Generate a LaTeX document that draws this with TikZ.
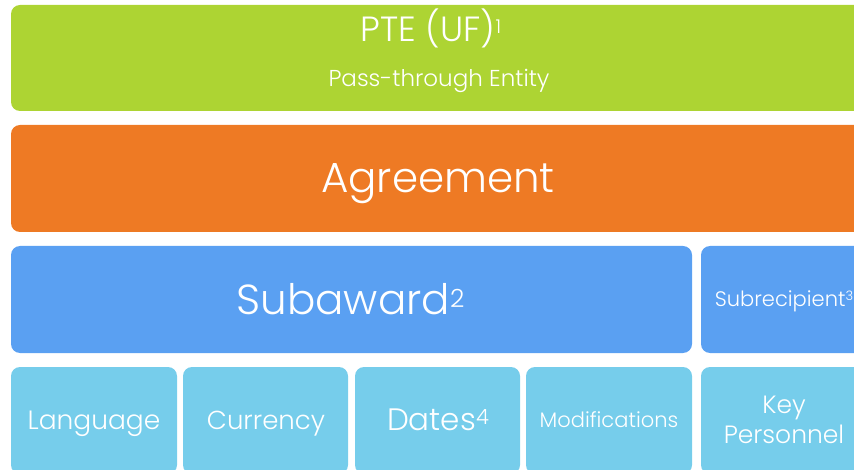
\documentclass[tikz,border=0pt]{standalone}
\usepackage{fontspec}
\setmainfont{Poppins}[UprightFont=* Light]
\definecolor{pteGreen}{HTML}{ADD433}
\definecolor{agreeOrange}{HTML}{EE7A24}
\definecolor{subBlue}{HTML}{5AA0F2}
\definecolor{itemBlue}{HTML}{76CDEB}
\newcommand{\upnum}[3]{\raisebox{#2}{\fontsize{#1}{#1}\selectfont #3}}
\newcommand{\sz}[1]{\fontsize{#1}{#1}\selectfont}

\begin{document}
\begin{tikzpicture}[x=1pt, y=-1pt,
  tile/.style={rectangle, rounded corners=9pt, inner sep=0pt, minimum height=107pt},
  item/.style={tile, fill=itemBlue, minimum width=166pt},
  word/.style={text=white, anchor=base, inner sep=0pt}]
\useasboundingbox (0,0) rectangle (854,470);
\clip (0,0) rectangle (854,470);

%Boksene
\node[tile, fill=pteGreen, minimum width=855pt, minimum height=106pt] (pte) at (438.5,58) {};
\node[tile, fill=agreeOrange, minimum width=855pt] (agreement) at (438.5,178.5) {};
\node[tile, fill=subBlue, minimum width=681pt] (subaward) at (351.5,299.5) {};
\node[tile, fill=subBlue, minimum width=166pt] (subrecipient) at (784,299.5) {};
\node[item] (language) at (94,420.5) {};
\node[item, minimum width=165pt] (currency) at (265.5,420.5) {};
\node[item, minimum width=165pt] (dates) at (437.5,420.5) {};
\node[item] (modifications) at (609,420.5) {};
\node[item] (keypersonnel) at (784,420.5) {};

%Tekstene
\node[word, font=\sz{35}] (pteName) at (431,41.7) {PTE (UF)\upnum{19}{8pt}{1}};
\node[word, font=\sz{23}] (pteText) at (439,87) {Pass-through Entity};
\node[word, font=\sz{42}] (agreementText) at (438,193) {Agreement};
\node[word, font=\sz{42}] (subawardText) at (350.5,315) {Subaward\upnum{25}{7pt}{2}};
\node[word, font=\sz{21}] (subrecipientText) at (784,307) {Subrecipient\upnum{13}{6pt}{3}};
\node[word, font=\sz{26.5}] (languageText) at (94,429) {Language};
\node[word, font=\sz{26}] (currencyText) at (266,429) {Currency};
\node[word, font=\sz{31}] (datesText) at (438,430.7) {Dates\upnum{21}{6pt}{4}};
\node[word, font=\sz{21}] (modificationsText) at (609,427) {Modifications};
\node[word, font=\sz{25}] (keyText) at (784,413) {Key};
\node[word, font=\sz{25}] (personnelText) at (784,443) {Personnel};
\end{tikzpicture}
\end{document}
